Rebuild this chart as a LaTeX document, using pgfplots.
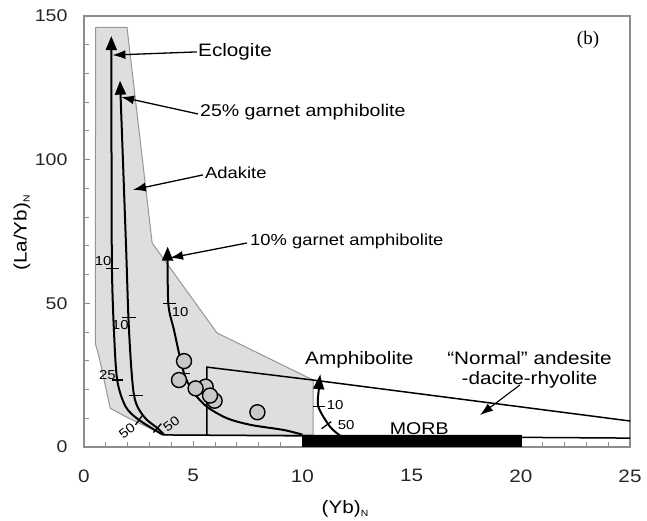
\documentclass[border=0pt]{standalone}
\usepackage{fontspec}
\setmainfont[FakeStretch=1.15]{Liberation Sans}
\newfontfamily\seriffont{Liberation Serif}
\usepackage{pgfplots}
\pgfplotsset{compat=1.18}
\usetikzlibrary{arrows.meta,calc}
\definecolor{fieldgray}{RGB}{222,222,222}
\definecolor{edgegray}{RGB}{150,150,150}
\definecolor{dotgray}{RGB}{200,200,200}
\definecolor{axgray}{RGB}{140,140,140}
\begin{document}
\begin{tikzpicture}
\begin{axis}[
 width=546pt, height=431pt, scale only axis,
 xmin=0, xmax=25, ymin=0, ymax=150,
 xtick={0,5,...,25}, ytick={0,50,100,150},
 minor x tick num=4, minor y tick num=4,
 tick align=inside, xtick pos=bottom, ytick pos=left,
 major tick length=6pt, minor tick length=5pt,
 axis line style={axgray, line width=1.2pt},
 tick style={axgray, line width=1pt},
 /pgf/number format/assume math mode=true,
 tick label style={text=black!85},
 xticklabel style={font=\fontsize{18}{18}\selectfont, yshift=-19pt},
 yticklabel style={font=\fontsize{17}{17}\selectfont, xshift=-13pt},
 clip=false,
]
% Adakite field
\addplot[fill=fieldgray, draw=edgegray, line width=1pt] coordinates {(0.53,146)(1.97,146)(3.12,71)(6.09,39.7)(10.49,23.3)(10.49,4.2)(3.66,4.2)(1.9,10.6)(1.2,13.5)(0.69,31.4)(0.52,36)(0.53,146)};
% box and normal ADR field line
\addplot[black, line width=1.5pt] coordinates {(5.63,4.2)(5.63,27.8)(10.49,23.3)(25,9.05)};
\addplot[black, line width=1.5pt] coordinates {(3.6,4.2)(25,3.1)};
% MORB bar
\addplot[fill=black, draw=black] coordinates {(10,0.4)(20,0.4)(20,4.2)(10,4.2)(10,0.4)};
% melting curves
\addplot[black, line width=2pt, smooth, tension=0.5, -{Triangle[length=14pt,width=11pt]}] coordinates {(3.6,4.3)(2.52,9.4)(1.91,14)(1.52,23.3)(1.37,40.7)(1.28,62)(1.26,100)(1.25,143)};
\addplot[black, line width=2pt, smooth, tension=0.5, -{Triangle[length=14pt,width=11pt]}] coordinates {(3.66,4.3)(3.36,6.6)(2.75,10.5)(2.29,18)(2.06,40.7)(1.92,71)(1.65,127.5)};
\addplot[black, line width=2pt, smooth, tension=0.5, -{Triangle[length=14pt,width=11pt]}] coordinates {(10.0,4.3)(9.16,5.9)(7.63,7.7)(6.55,10)(5.63,14)(5.04,18.8)(4.58,25.6)(4.12,40.7)(3.86,50)(3.83,69.7)};
\addplot[black, line width=2pt, smooth, tension=0.5, -{Triangle[length=14pt,width=11pt]}] coordinates {(11.72,4.0)(11.26,7.1)(10.73,14)(10.75,20)(10.8,25)};
% tick bars on curves
\addplot[black, line width=1.3pt] coordinates {(1.0,62)(1.6,62)};
\addplot[black, line width=1.3pt] coordinates {(1.3,23.3)(1.8,23.3)};
\addplot[black, line width=1.3pt] coordinates {(2.36,7.73)(2.68,11.07)};
\addplot[black, line width=1.3pt] coordinates {(1.72,45)(2.38,45)};
\addplot[black, line width=1.3pt] coordinates {(2.05,18)(2.7,18)};
\addplot[black, line width=1.3pt] coordinates {(3.18,5.06)(3.54,8.14)};
\addplot[black, line width=1.3pt] coordinates {(3.6,50)(4.2,50)};
\addplot[black, line width=1.3pt] coordinates {(4.45,25.6)(4.85,25.6)};
\addplot[black, line width=1.3pt] coordinates {(10.5,14)(11.05,14)};
\addplot[black, line width=1.3pt] coordinates {(10.88,6.37)(11.32,8.83)};
% samples
\addplot[only marks, mark=*, mark size=7.5pt, mark options={fill=dotgray, draw=black, line width=1.4pt}] coordinates {(4.58,29.9)(4.35,23.3)(5.57,21.0)(5.11,20.4)(5.98,16.1)(5.77,17.9)(7.94,12.1)};
% curve numbers
\begin{scope}[every node/.style={font=\fontsize{13}{13}\selectfont, inner sep=0pt}]
\node at (axis cs:0.88,64.8) {10};
\node at (axis cs:1.07,25) {25};
\node[rotate=37] at (axis cs:1.97,5.6) {50};
\node at (axis cs:1.66,42.5) {10};
\node[rotate=37] at (axis cs:4.0,8.0) {50};
\node at (axis cs:4.4,47.1) {10};
\node at (axis cs:11.5,14.6) {10};
\node at (axis cs:12.0,7.7) {50};
\end{scope}
% labels and arrows
\node[anchor=west, inner sep=0pt, font=\fontsize{18}{18}\selectfont] at (axis cs:5.22,137.5) {Eclogite};
\draw[line width=1.3pt, -{Latex[length=13pt,width=9pt]}] (axis cs:5.17,137.5) -- (axis cs:1.3,136.4);
\node[anchor=west, inner sep=0pt, font=\fontsize{17}{17}\selectfont] at (axis cs:5.31,116.6) {25\% garnet amphibolite};
\draw[line width=1.3pt, -{Latex[length=13pt,width=9pt]}] (axis cs:5.22,115.9) -- (axis cs:1.7,121.8);
\node[anchor=west, inner sep=0pt, font=\fontsize{16}{16}\selectfont] at (axis cs:5.54,95.4) {Adakite};
\draw[line width=1.3pt, -{Latex[length=13pt,width=9pt]}] (axis cs:5.45,94.7) -- (axis cs:2.24,89.5);
\node[anchor=west, inner sep=0pt, font=\fontsize{16}{16}\selectfont] at (axis cs:7.6,71.4) {10\% garnet amphibolite};
\draw[line width=1.3pt, -{Latex[length=13pt,width=9pt]}] (axis cs:7.46,71) -- (axis cs:3.94,65.8);
\node[anchor=west, inner sep=0pt, font=\fontsize{18}{18}\selectfont] at (axis cs:10.12,30.3) {Amphibolite};
\node[align=center, inner sep=0pt, font=\fontsize{18}{20}\selectfont] at (axis cs:20.4,26.8) {``Normal'' andesite\\-dacite-rhyolite};
\draw[line width=1.1pt, -{Latex[length=13pt,width=9pt]}] (axis cs:19.96,21.6) -- (axis cs:18.13,11.1);
\node[anchor=west, inner sep=0pt, font=\fontsize{17}{17}\selectfont] at (axis cs:14.0,6.3) {MORB};
\node[inner sep=0pt, font=\seriffont\fontsize{19}{19}\selectfont] at (axis cs:23.08,141.7) {(b)};
% axis labels
\node[rotate=90, inner sep=0pt, font=\fontsize{18}{18}\selectfont] at (rel axis cs:-0.1136,0.4965) {(La/Yb)\raisebox{-3pt}{\fontsize{9}{9}\selectfont N}};
\node[inner sep=0pt, font=\fontsize{18}{18}\selectfont] at (rel axis cs:0.478,-0.144) {(Yb)\raisebox{-3pt}{\fontsize{9}{9}\selectfont N}};
\coordinate (BL) at (rel axis cs:0,0);
\coordinate (TR) at (rel axis cs:1,1);
\end{axis}
\pgfresetboundingbox
\path[use as bounding box] ($(BL)+(-84pt,-74pt)$) rectangle ($(TR)+(17pt,16pt)$);
\end{tikzpicture}
\end{document}
